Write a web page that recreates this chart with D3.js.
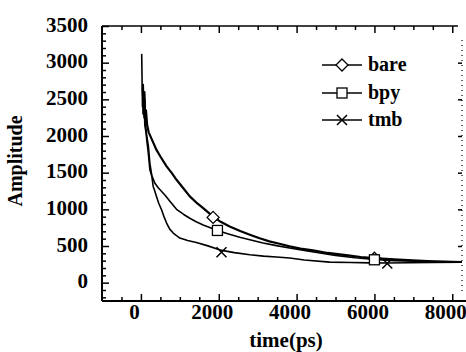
<!DOCTYPE html>
<html><head><meta charset="utf-8">
<script src="https://cdn.jsdelivr.net/npm/d3@7"></script>
<style>body{margin:0;background:#fff}svg text{font-family:"Liberation Serif","Times New Roman",serif;font-weight:bold;fill:#000}</style>
</head><body><svg id="c" width="466" height="352"></svg>
<script>
// time (ps), amplitude pairs
const bareT = [50,70,90,110,130,160,200,300,400,500,660,800,915,1100,1256,1450,1600,1855,2050,2280,2550,2800,3050,3300,3560,3820,4100,4420,4800,5270,5650,6000,6500,6980,7500,8000,8250];
const bareV = [2650,2300,2600,2250,2350,2150,2050,1930,1810,1720,1585,1490,1403,1280,1176,1080,1017,900,830,767,705,654,605,563,530,495,465,440,405,375,350,334,318,304,292,285,282];
const bpyT = [40,60,80,100,130,160,190,230,270,360,450,615,760,915,1100,1256,1420,1600,1800,1966,2250,2540,2850,3140,3480,3820,4200,4600,5000,5500,6000,6500,7000,7500,8000,8250];
const bpyV = [2700,2300,2550,2150,2050,1900,1767,1540,1470,1355,1290,1196,1100,1000,930,878,830,787,745,712,665,620,578,540,505,472,440,405,372,340,315,300,292,287,283,282];
const tmbT = [20,40,60,80,100,120,150,190,230,270,315,350,400,460,530,600,660,740,830,1000,1200,1425,1700,2080,2400,2800,3150,3480,3820,4200,4850,5400,5900,6300,6900,7500,8250];
const tmbV = [3120,2400,2700,2250,2500,2150,2000,1870,1630,1494,1312,1260,1176,1080,995,890,813,730,677,608,575,549,505,440,410,381,362,350,336,310,280,275,270,268,272,276,280];
const seriesNames = ["bare","bpy","tmb"];
const markerT = [[1855,6000],[1966,6000],[2070,6330]];
const markerV = [[890,334],[712,312],[415,262]];
const xTicks = [0,2000,4000,6000,8000];
const yTicks = [0,500,1000,1500,2000,2500,3000,3500];

const svg = d3.select("#c");
const L=102, R=462, T=26, B=301;
const x = d3.scaleLinear().domain([-1000,8250]).range([L,R]);
const y = d3.scaleLinear().domain([-250,3500]).range([B,T]);
const fmt = d3.format("d");

// frame
svg.append("line").attr("x1",L).attr("x2",L).attr("y1",T).attr("y2",B).attr("stroke","#000").attr("stroke-width",2);
svg.append("line").attr("x1",L).attr("x2",R+4).attr("y1",B).attr("y2",B).attr("stroke","#000").attr("stroke-width",2);
svg.append("line").attr("x1",L).attr("x2",R-4).attr("y1",T).attr("y2",T).attr("stroke","#000").attr("stroke-width",1.5);
svg.append("line").attr("x1",R).attr("x2",R).attr("y1",T+14).attr("y2",B-10).attr("stroke","#000").attr("stroke-width",1.2).attr("stroke-dasharray","1,4");

// ticks
const minorX = d3.range(-500,8251,500).filter(v=>v%2000!==0);
const minorY = d3.range(-200,3500,100).filter(v=>v%500!==0);
function tickAxis(axis, sel){ sel.call(axis); sel.select(".domain").remove(); sel.selectAll("line").attr("stroke","#000").attr("stroke-width",1.5); }
tickAxis(d3.axisBottom(x).tickValues(xTicks).tickSize(-7).tickFormat(""), svg.append("g").attr("transform",`translate(0,${B})`));
tickAxis(d3.axisBottom(x).tickValues(minorX).tickSize(-4).tickFormat(""), svg.append("g").attr("transform",`translate(0,${B})`));
tickAxis(d3.axisTop(x).tickValues(xTicks.filter(v=>v<8250)).tickSize(-7).tickFormat(""), svg.append("g").attr("transform",`translate(0,${T})`));
tickAxis(d3.axisTop(x).tickValues(minorX.filter(v=>v<8000)).tickSize(-4).tickFormat(""), svg.append("g").attr("transform",`translate(0,${T})`));
tickAxis(d3.axisLeft(y).tickValues(yTicks).tickSize(-7).tickFormat(""), svg.append("g").attr("transform",`translate(${L},0)`));
tickAxis(d3.axisLeft(y).tickValues(minorY).tickSize(-4).tickFormat(""), svg.append("g").attr("transform",`translate(${L},0)`));
tickAxis(d3.axisRight(y).tickValues(yTicks.filter(v=>v>0&&v<3500)).tickSize(-4).tickFormat(""), svg.append("g").attr("transform",`translate(${R},0)`));

// tick labels
const gx = svg.append("g").attr("transform",`translate(0,${B})`).call(d3.axisBottom(x).tickValues(xTicks).tickSize(0).tickPadding(3).tickFormat(fmt));
gx.select(".domain").remove();
gx.selectAll("text").attr("font-size",21).attr("dx",-7).style("font-family","Liberation Serif").style("font-weight","bold");
const gy = svg.append("g").attr("transform",`translate(${L},0)`).call(d3.axisLeft(y).tickValues(yTicks).tickSize(0).tickPadding(14).tickFormat(fmt));
gy.select(".domain").remove();
gy.selectAll("text").attr("font-size",21).attr("dy","0.25em").style("font-family","Liberation Serif").style("font-weight","bold");

// axis titles
svg.append("text").attr("x",286).attr("y",347).attr("text-anchor","middle").attr("font-size",21).text("time(ps)");
svg.append("text").attr("transform","translate(22,161) rotate(-90)").attr("text-anchor","middle").attr("font-size",20).text("Amplitude");

// curves
const line = d3.line().x(d=>x(d[0])).y(d=>y(d[1]));
const data = [d3.zip(bareT,bareV), d3.zip(bpyT,bpyV), d3.zip(tmbT,tmbV)];
const widths=[2.2,1.6,1.6];
data.forEach((d,i)=>svg.append("path").datum(d).attr("d",line).attr("fill","none").attr("stroke","#000").attr("stroke-width",widths[i]).attr("stroke-linejoin","round"));

// markers
function marker(g,i,cx,cy){
  if(i===0) g.append("path").attr("d",`M${cx},${cy-6}L${cx+6},${cy}L${cx},${cy+6}L${cx-6},${cy}Z`).attr("fill","#fff").attr("stroke","#000").attr("stroke-width",1.3);
  else if(i===1) g.append("rect").attr("x",cx-5).attr("y",cy-5).attr("width",10).attr("height",10).attr("fill","#fff").attr("stroke","#000").attr("stroke-width",1.3);
  else g.append("path").attr("d",`M${cx-5},${cy-5}L${cx+5},${cy+5}M${cx-5},${cy+5}L${cx+5},${cy-5}`).attr("stroke","#000").attr("stroke-width",1.5);
}
markerT.forEach((ts,i)=>ts.forEach((t,j)=>marker(svg,i,x(t),y(markerV[i][j]))));

// legend
const legY=[65,93,120];
seriesNames.forEach((n,i)=>{
  svg.append("line").attr("x1",322).attr("x2",362).attr("y1",legY[i]).attr("y2",legY[i]).attr("stroke","#000").attr("stroke-width",1.3);
  marker(svg,i,342,legY[i]);
  svg.append("text").attr("x",368).attr("y",legY[i]).attr("dy","0.3em").attr("font-size",20).text(n);
});
</script></body></html>
